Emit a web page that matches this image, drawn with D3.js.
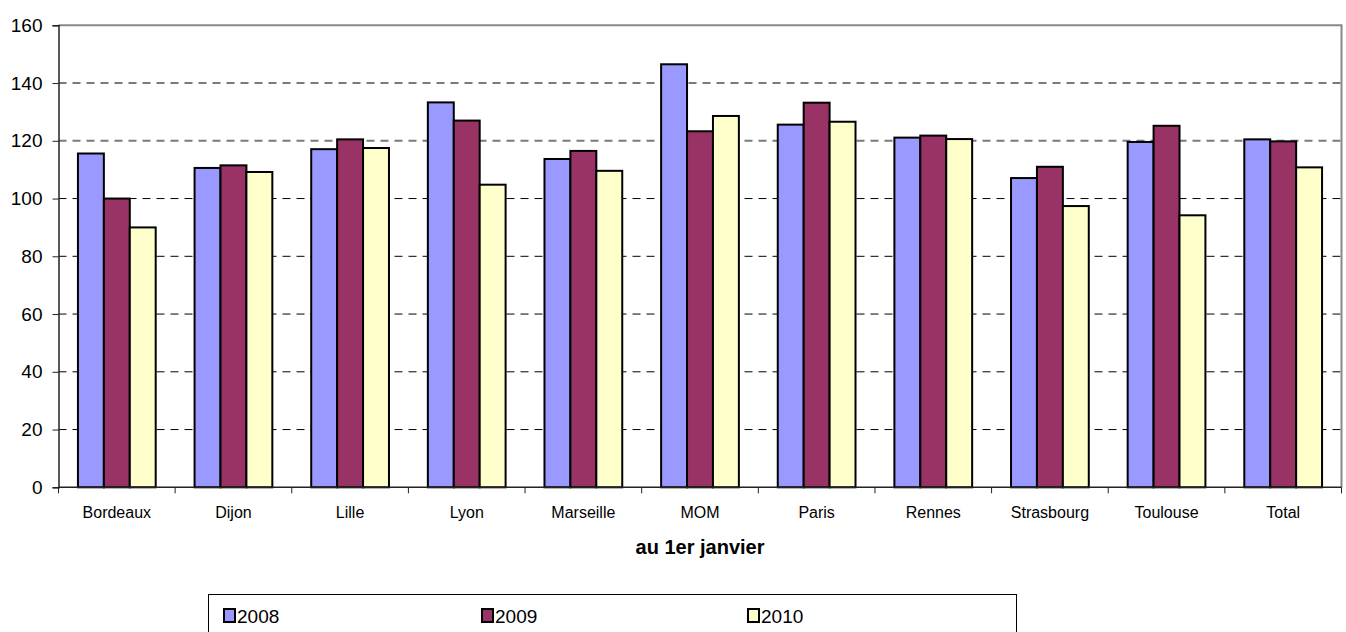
<!DOCTYPE html>
<html>
<head>
<meta charset="utf-8">
<script src="https://cdn.jsdelivr.net/npm/d3@7"></script>
<style>
  html, body { margin: 0; padding: 0; background: #fff; }
  svg { display: block; font-family: "Liberation Sans", Arial, sans-serif; }
</style>
</head>
<body>
<svg id="chart" width="1346" height="632"></svg>
<script>
// Indice par ville, au 1er janvier
const categories = ["Bordeaux", "Dijon", "Lille", "Lyon", "Marseille", "MOM", "Paris", "Rennes", "Strasbourg", "Toulouse", "Total"];
const years = ["2008", "2009", "2010"];
const values2008 = [115.6, 110.6, 117.1, 133.3, 113.7, 146.5, 125.6, 121.1, 107.1, 119.6, 120.5];
const values2009 = [100.0, 111.5, 120.5, 127.0, 116.5, 123.3, 133.2, 121.8, 111.0, 125.2, 119.8];
const values2010 = [90.0, 109.2, 117.5, 104.8, 109.6, 128.6, 126.6, 120.6, 97.4, 94.2, 110.8];
const yTicks = [0, 20, 40, 60, 80, 100, 120, 140, 160];
const colors = ["#9999FF", "#993366", "#FFFFCC"];
const xTitle = "au 1er janvier";

const series = [values2008, values2009, values2010];
const svg = d3.select("#chart");

const plot = { left: 58.5, right: 1341.5, top: 25.3, bottom: 487.3 };

const x = d3.scaleBand().domain(categories).range([plot.left, plot.right]).paddingInner(0).paddingOuter(0);
// 150% gap between groups: three bars plus 1.5 bar widths of space per category
const inner = d3.scaleBand().domain(years).range([0, x.bandwidth()]).paddingInner(0).paddingOuter(0.75);
const y = d3.scaleLinear().domain([0, 160]).range([plot.bottom, plot.top]);

// Horizontal gridlines
svg.append("g")
  .selectAll("line")
  .data(yTicks.filter(t => t > 0 && t < 160))
  .join("line")
  .attr("x1", plot.left).attr("x2", plot.right)
  .attr("y1", d => y(d)).attr("y2", d => y(d))
  .attr("stroke", d => d >= 120 ? "#7a7a7a" : "#000")
  .attr("stroke-width", d => d >= 120 ? 2 : 1)
  .attr("stroke-dasharray", "8,6");

// Plot frame: top and right edges
svg.append("path")
  .attr("d", `M${plot.left},${y(160)}H${plot.right}V${plot.bottom}`)
  .attr("fill", "none").attr("stroke", "#888").attr("stroke-width", 2);

// Bars
const groups = svg.append("g").selectAll("g")
  .data(categories)
  .join("g")
  .attr("transform", d => `translate(${x(d)},0)`);

groups.selectAll("rect")
  .data((d, i) => years.map((yr, k) => ({ yr, k, v: series[k][i] })))
  .join("rect")
  .attr("x", d => inner(d.yr))
  .attr("width", inner.bandwidth())
  .attr("y", d => y(d.v))
  .attr("height", d => y(0) - y(d.v))
  .attr("fill", d => colors[d.k])
  .attr("stroke", "#000")
  .attr("stroke-width", 2);

// Y axis
const yAxis = d3.axisLeft(y).tickValues(yTicks).tickSize(6).tickPadding(10);
const gy = svg.append("g").attr("transform", `translate(${plot.left},0)`).call(yAxis);
gy.select(".domain").attr("stroke", "#222").attr("stroke-width", 1.5);
gy.selectAll(".tick line").attr("stroke", "#222");
gy.selectAll(".tick text").attr("font-size", 19).attr("fill", "#000")
  .attr("font-family", "'Liberation Sans', Arial, sans-serif");

// X axis: baseline, boundary ticks, labels
svg.append("line")
  .attr("x1", plot.left).attr("x2", plot.right)
  .attr("y1", plot.bottom).attr("y2", plot.bottom)
  .attr("stroke", "#222").attr("stroke-width", 1.5);

const boundaries = categories.map(c => x(c)).concat([x(categories[categories.length - 1]) + x.bandwidth()]);
svg.append("g").selectAll("line")
  .data(boundaries)
  .join("line")
  .attr("x1", d => d).attr("x2", d => d)
  .attr("y1", plot.bottom).attr("y2", plot.bottom + 6)
  .attr("stroke", "#222");

svg.append("g").selectAll("text")
  .data(categories)
  .join("text")
  .attr("x", d => x(d) + x.bandwidth() / 2)
  .attr("y", 518)
  .attr("text-anchor", "middle")
  .attr("font-size", 16)
  .attr("fill", "#000")
  .text(d => d);

svg.append("text")
  .attr("x", 700).attr("y", 554)
  .attr("text-anchor", "middle")
  .attr("font-size", 20).attr("font-weight", "bold")
  .text(xTitle);

// Legend
const legend = svg.append("g");
legend.append("rect")
  .attr("x", 208.5).attr("y", 594.5).attr("width", 808).attr("height", 45)
  .attr("fill", "#fff").attr("stroke", "#000").attr("stroke-width", 1);

const legendX = [224, 482, 748];
const items = legend.selectAll("g.item")
  .data(years)
  .join("g")
  .attr("class", "item")
  .attr("transform", (d, i) => `translate(${legendX[i]},609)`);

items.append("rect")
  .attr("x", 0).attr("y", 0).attr("width", 11).attr("height", 13)
  .attr("fill", (d, i) => colors[i])
  .attr("stroke", "#000").attr("stroke-width", 2);

items.append("text")
  .attr("x", 13).attr("y", 14)
  .attr("font-size", 19)
  .text(d => d);
</script>
</body>
</html>
